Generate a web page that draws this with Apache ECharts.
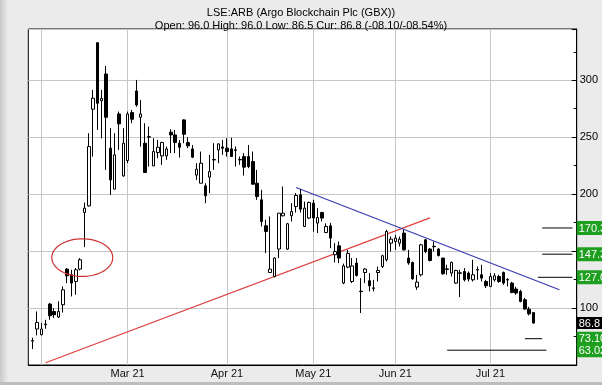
<!DOCTYPE html>
<html><head><meta charset="utf-8">
<script src="https://cdn.jsdelivr.net/npm/echarts@6/dist/echarts.min.js"></script>
<style>html,body{margin:0;padding:0;background:#ebebeb}#c{width:602px;height:385px}</style>
</head><body><div id="c"></div>
<script>
// category axis: trading days (first entry and last ten are empty slots)
const dates = ['01-27','01-28','01-29',
 '02-01','02-02','02-03','02-04','02-05','02-08','02-09','02-10','02-11','02-12','02-15','02-16','02-17','02-18','02-19','02-22','02-23','02-24','02-25','02-26',
 '03-01','03-02','03-03','03-04','03-05','03-08','03-09','03-10','03-11','03-12','03-15','03-16','03-17','03-18','03-19','03-22','03-23','03-24','03-25','03-26','03-29','03-30','03-31',
 '04-01','04-06','04-07','04-08','04-09','04-12','04-13','04-14','04-15','04-16','04-19','04-20','04-21','04-22','04-23','04-26','04-27','04-28','04-29','04-30',
 '05-04','05-05','05-06','05-07','05-10','05-11','05-12','05-13','05-14','05-17','05-18','05-19','05-20','05-21','05-24','05-25','05-26','05-27','05-28',
 '06-01','06-02','06-03','06-04','06-07','06-08','06-09','06-10','06-11','06-14','06-15','06-16','06-17','06-18','06-21','06-22','06-23','06-24','06-25','06-28','06-29','06-30',
 '07-01','07-02','07-05','07-06','07-07','07-08','07-09','07-12','07-13','07-14','07-15',
 '07-16','07-19','07-20','07-21','07-22','07-23','07-26','07-27','07-28','07-29'];
const candleDates = dates.slice(1, 118);
const opens = [71,81.6,76.6,85.4,103.5,97,92.1,102.9,134.2,129.2,123.3,134.2,183.9,189.7,274.6,333,282,305.5,240.4,204.4,270.4,216,
 229.5,271.6,290.6,267.5,244.7,250,224.8,236.5,233.6,233.6,254.4,252,244.7,265.2,245.3,239.7,216.7,209.6,207.3,214.9,230,238.9,241.5,
 240.4,239.7,238.9,230.1,233,233,228.6,209.6,195,172.2,131.2,127.7,151.8,181,151.8,181,189.1,199.4,171.6,179,
 192.1,174.6,183.9,166.3,172.2,146.8,154.6,122,136,123.3,139.5,114.8,131.2,124,117.7,131.2,136.5,142.4,157,
 158.4,157,165.8,143.9,140,118.4,129.2,159.9,151.8,154.2,151.8,143.9,134.4,130.7,121.9,130.9,132.1,130.7,124.8,133.8,129.2,123.3,
 119,124.8,127.7,131.2,125,121.9,116.7,114.6,107.3,99,96];
const closes = [71.5,87.4,81.6,86,93.2,94.1,97,116,128.3,121.9,133.6,142.4,187.7,241.8,284.2,279.8,284,267.5,212.5,234.5,261.7,244.7,
 270.4,265.8,278.3,270.4,219,250.5,237.4,241.2,245.3,239.7,252,245.3,241.2,252.6,242.4,232.5,221.9,227.2,198.5,219.8,230.5,244.1,240.3,
 237.4,233,238.5,230.5,223.7,224.2,208.8,197.9,176,167.2,134.2,143.9,183.3,183.3,174,184.7,198.8,186.8,187.7,192.6,
 179,179.5,179,171.6,161.4,149.6,143.9,137,148,137,128.6,114.4,134.2,119.6,117.3,133,145.9,167.2,160.5,
 161.4,160.5,151.1,139.5,125.7,122.8,155.5,149.6,141.8,153.8,146.1,130.1,134,140,133,130.5,124.8,125.4,129.2,133.4,126.3,119.6,
 127.7,128.3,123.3,121.9,124.6,113.7,113.2,105.8,99.1,94.9,86.8];
const lows = [64,76,76,81.8,89.7,91.2,91.2,96.1,121.9,110.2,111.7,133,153.5,189.1,233,256.4,249,221.3,199.4,204.4,238.9,215.4,
 227.2,262.3,276.8,241.8,219,224.2,224.8,231.6,225.7,230.1,236,236,232.1,244.7,240.4,231.6,212.5,209.6,192.1,200.9,221.3,227.2,234.5,
 233,233,224.2,225.7,216.3,222.8,208.2,195,171.6,148.2,131.2,127,143.9,180.4,151,176,183.9,183.9,171,178,
 167.2,165.8,176,165.8,152.6,140,139.5,121,135,122,127.7,95.6,121.9,114.6,114.6,123.3,135.1,140.9,149.6,
 151.1,154,150.5,138,124.8,116,127.7,148.2,140.9,149.6,145.3,129.2,129.2,127.7,121.3,109.6,123.3,123.3,123.3,124.8,123.3,117.5,
 118.4,123.3,122.2,120.4,119,113,111.7,105,98.5,93.5,86.5];
const highs = [74,97,86.8,89.7,104.4,100,105.8,119,135.1,133.6,135.1,143.9,192.6,253.5,291.5,333,291.5,312.5,257.9,253.5,272.5,257.9,
 272.5,274,300.3,282.7,262.3,259.3,249.1,247.6,246.1,241.8,257,256.4,247.6,265.8,250,243.2,227.2,237.4,209.6,234.5,244.7,244.7,247.6,
 249,249.6,241.8,233,236,243.2,237.4,221.3,203.8,177.5,180.4,144.5,183.3,206.7,174.8,192.1,200.9,204.4,193.5,193.5,
 195,187.7,184.5,174.4,174.8,157,158.4,139,151,143.9,143.9,126.3,135.1,130.7,124.8,136.5,146.8,168.7,162.8,
 164.3,162.8,168.7,151.1,140.9,129.2,156.4,160.5,152.6,158.4,152.6,143.9,138,140.9,133.6,133.6,135.1,132.1,142.4,136.5,138,124.8,
 130.7,130.7,129.2,132.1,126.3,123,118.7,116,109,101,96];
const axisLabelValues = [100, 200, 250, 300];
const monthStarts = ['02-01','03-01','04-01','05-04','06-01','07-01'];
const monthLabels = ['', 'Mar 21', 'Apr 21', 'May 21', 'Jun 21', 'Jul 21'];
// trend lines: [category index, price]
const redTrend = [[4, 52.0], [93, 179.2]];
const blueTrend = [[62, 205.8], [123, 116.1]];
// target levels: value, start slot, end slot
const targetValues = [170.3, 147.3, 127.0, 73.1, 63.0];
const targetStart = [119, 119, 118, 115, 97];
const targetEnd = [126, 126, 126, 119, 120];
// price boxes on the right, split in two groups so that no two boxes of one group overlap
const boxValuesA = [63.0, 86.8, 147.3];
const boxTextsA = ['63.02', '86.8', '147.32'];
const boxKindsA = ['g', 'k', 'g'];
const boxValuesB = [73.1, 127.0, 170.3];
const boxTextsB = ['73.10', '127.05', '170.35'];
const boxKindsB = ['g', 'g', 'g'];
// highlight ellipse: centre slot, centre price, half-width in slots, half-height in price
const ellipseCentre = [12.5, 144.3];
const ellipseRadii = [7.06, 16.5];

const FONT = 'Liberation Sans';
const candleRows = candleDates.map((d, i) => [d, opens[i], closes[i], lows[i], highs[i]]);

const chart = echarts.init(document.getElementById('c'), null, {renderer: 'canvas'});

const targetSeries = targetValues.map((v, k) => ({
  type: 'line', data: [[targetStart[k], v], [targetEnd[k], v]], symbol: 'none', silent: true,
  lineStyle: {color: '#000', width: 1}, z: 4, animation: false
}));

function interpX(api, c, v) {
  const f = Math.floor(c), fr = c - f;
  const a = api.coord([f, v]), b = api.coord([f + 1, v]);
  return [a[0] + fr * (b[0] - a[0]), a[1], b[0] - a[0]];
}

const richBoxes = {
  g: {backgroundColor: '#1f9f1f', color: '#fff', fontSize: 11, fontFamily: FONT, padding: [2, 2, 1, 2], lineHeight: 11, width: 34},
  k: {backgroundColor: '#000', color: '#fff', fontSize: 11, fontFamily: FONT, padding: [1, 2, 0, 2], lineHeight: 11, width: 34}
};
function boxAxis(values, texts, kinds) {
  return {type: 'value', position: 'right', min: 50, max: 345,
    axisLine: {show: false}, axisTick: {show: false}, splitLine: {show: false},
    axisLabel: {
      customValues: values, margin: 0, hideOverlap: false,
      formatter: v => { const k = values.indexOf(v); return k < 0 ? '' : '{' + kinds[k] + '|' + texts[k] + '}'; },
      rich: richBoxes
    }};
}

chart.setOption({
  animation: false,
  backgroundColor: '#ebebeb',
  title: [
    {text: 'LSE:ARB (Argo Blockchain Plc (GBX))', left: 'center', top: 2,
     textStyle: {fontFamily: FONT, fontSize: 11, fontWeight: 'normal', color: '#000', lineHeight: 12}},
    {text: 'Open: 96.0 High: 96.0 Low: 86.5 Cur: 86.8 (-08.10/-08.54%)', left: 'center', top: 15,
     textStyle: {fontFamily: FONT, fontSize: 11, fontWeight: 'normal', color: '#000', lineHeight: 12}}
  ],
  graphic: [
    {type: 'rect', left: 0, top: 0, shape: {width: 8, height: 385}, silent: true,
     style: {fill: new echarts.graphic.LinearGradient(0, 0, 1, 0, [{offset: 0, color: '#c9c9c9'}, {offset: 1, color: '#ebebeb'}])}},
    {type: 'rect', left: 0, top: 382, shape: {width: 602, height: 3}, silent: true, style: {fill: '#bdbdbd'}}
  ],
  grid: {left: 28.3, right: 25.3, top: 29, bottom: 20, show: true, backgroundColor: '#fff', borderColor: '#000', borderWidth: 1,
         containLabel: false, outerBoundsMode: 'none'},
  xAxis: {
    type: 'category', data: dates, boundaryGap: false,
    axisLine: {show: true, lineStyle: {color: '#000'}},
    axisTick: {show: false},
    axisLabel: {interval: (i, v) => monthStarts.includes(v), formatter: v => monthLabels[monthStarts.indexOf(v)] || '',
      margin: 3, color: '#111', fontSize: 11, fontFamily: FONT, hideOverlap: false},
    splitLine: {show: true, interval: (i, v) => monthStarts.includes(v), lineStyle: {color: '#c6c6c6', width: 1}}
  },
  yAxis: [
    {type: 'value', position: 'right', min: 50, max: 345, interval: 50, scale: false,
     axisLine: {show: true, lineStyle: {color: '#000'}},
     axisTick: {show: true, inside: true, length: 5, lineStyle: {color: '#000'}},
     minorTick: {show: true, splitNumber: 2, length: 3, lineStyle: {color: '#000'}},
     splitLine: {show: true, lineStyle: {color: '#c6c6c6', width: 1}},
     axisLabel: {formatter: v => axisLabelValues.includes(v) ? String(v) : '', margin: 3, color: '#000', fontSize: 11, fontFamily: FONT, hideOverlap: false}
    },
    boxAxis(boxValuesA, boxTextsA, boxKindsA),
    boxAxis(boxValuesB, boxTextsB, boxKindsB)
  ],
  series: [
    {type: 'candlestick', data: candleRows, encode: {x: 0, y: [1, 2, 3, 4]}, barWidth: 3,
     itemStyle: {color: '#fff', color0: '#000', borderColor: '#000', borderColor0: '#000', borderColorDoji: '#000', borderWidth: 1},
     z: 3},
    {type: 'line', data: redTrend, symbol: 'none', silent: true, lineStyle: {color: '#dd4040', width: 1.2}, z: 2},
    {type: 'line', data: blueTrend, symbol: 'none', silent: true, lineStyle: {color: '#3a3aaf', width: 1.2}, z: 2},
    ...targetSeries,
    {type: 'custom', data: [ellipseCentre], silent: true, z: 5,
     renderItem: (params, api) => {
       const c = interpX(api, ellipseCentre[0], ellipseCentre[1]);
       const rx = ellipseRadii[0] * c[2];
       const ry = c[1] - api.coord([0, ellipseCentre[1] + ellipseRadii[1]])[1];
       const pts = [];
       for (let k = 0; k < 72; k++) { const t = k / 72 * Math.PI * 2; pts.push([c[0] + rx * Math.cos(t), c[1] + ry * Math.sin(t)]); }
       return {type: 'polygon', shape: {points: pts}, style: {fill: 'none', stroke: '#cc3333', lineWidth: 1.2}};
     }}
  ]
});
</script></body></html>
